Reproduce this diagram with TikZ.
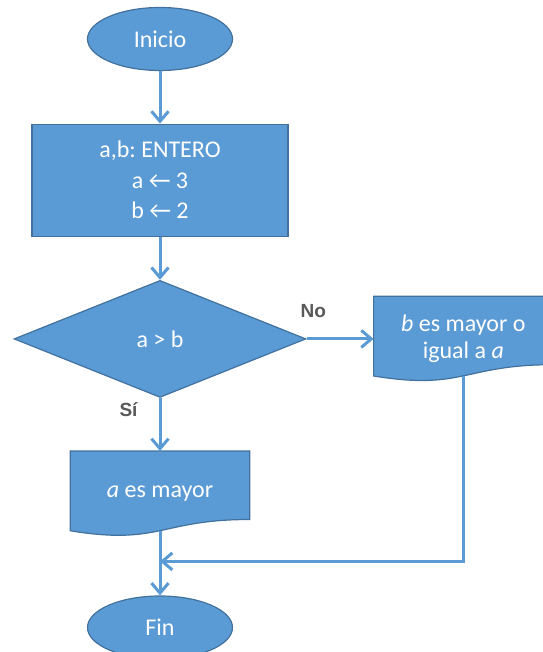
\documentclass[tikz,border=0pt]{standalone}
\usepackage{fontspec}
\setmainfont{Carlito}
\newfontfamily\etiq{Liberation Sans}
\frenchspacing
\usetikzlibrary{positioning,shapes.geometric,arrows.meta,calc,backgrounds}
\definecolor{azul}{HTML}{5B9BD5}
\definecolor{borde}{HTML}{41719C}
\definecolor{gris}{HTML}{595959}
\newcommand{\asig}{←}
% forma de documento (borde inferior ondulado)
\newcommand{\docforma}[1]{%
  \begin{pgfonlayer}{background}
    \filldraw[draw=borde, fill=azul, line width=1.2pt]
      (#1.north west) -- (#1.north east) -- ($(#1.north east)!0.802!(#1.south east)$)
      .. controls ($(#1.north)!0.802!(#1.south)$) and ($(#1.north)!1.107!(#1.south)$)
      .. ($(#1.north west)!0.934!(#1.south west)$) -- cycle;
    \coordinate (#1-w) at ($(#1.north)!0.933!(#1.south)$);
  \end{pgfonlayer}}

\begin{document}
\begin{tikzpicture}[
    x=1pt, y=-1pt,
    term/.style={ellipse, draw=borde, fill=azul, line width=1.2pt, text=white, minimum width=145pt, minimum height=63pt, font=\fontsize{24}{28}\selectfont},
    proc/.style={rectangle, draw=borde, fill=azul, line width=1.2pt, text=white, minimum width=256pt, minimum height=112pt, align=center, font=\fontsize{24}{30.5}\selectfont},
    cond/.style={diamond, draw=borde, fill=azul, line width=1.2pt, text=white, minimum width=292pt, minimum height=117pt, inner sep=0pt, font=\fontsize{24}{28}\selectfont},
    doc_box/.style={rectangle, text=white, minimum width=179pt, minimum height=85pt, align=center, font=\fontsize{24}{27}\selectfont},
    flow_link/.style={draw=azul, line width=3pt, -{Straight Barb[length=10pt, width=17pt]}}, % flechas del diagrama
    rama/.style={text=gris, inner sep=0pt, font=\etiq\bfseries\fontsize{19}{22}\selectfont}
]
\useasboundingbox (0,0) rectangle (542,652);

\node[term] (inicio) at (160,39) {Inicio};
\node[proc, below=52.5pt of inicio] (datos) {a,b: ENTERO\\a \asig{} 3\\b \asig{} 2};
\node[cond, below=43pt of datos] (comp) {a > b};
\node[doc_box, below=53pt of comp] (mayor_a) {\textit{a} es mayor};
\node[doc_box, right=67pt of comp] (mayor_b) {\textit{b} es mayor o\\igual a \textit{a}};
\docforma{mayor_a}
\docforma{mayor_b}
\node[term, below=59pt of mayor_a] (fin) {Fin};
\path (fin.north) ++(0,-34) coordinate (junta);

\draw[flow_link] (inicio) -- (datos);
\draw[flow_link] (datos) -- (comp);
\draw[flow_link] (comp.east) -- node[rama, pos=0.1, above=20pt] {No} (mayor_b);
\draw[flow_link] (comp.south) -- node[rama, pos=0.22, left=21pt] {Sí} (mayor_a);
\draw[flow_link] (mayor_a-w) -- (fin);
\draw[flow_link] (mayor_b-w) |- (junta);
\end{tikzpicture}
\end{document}
